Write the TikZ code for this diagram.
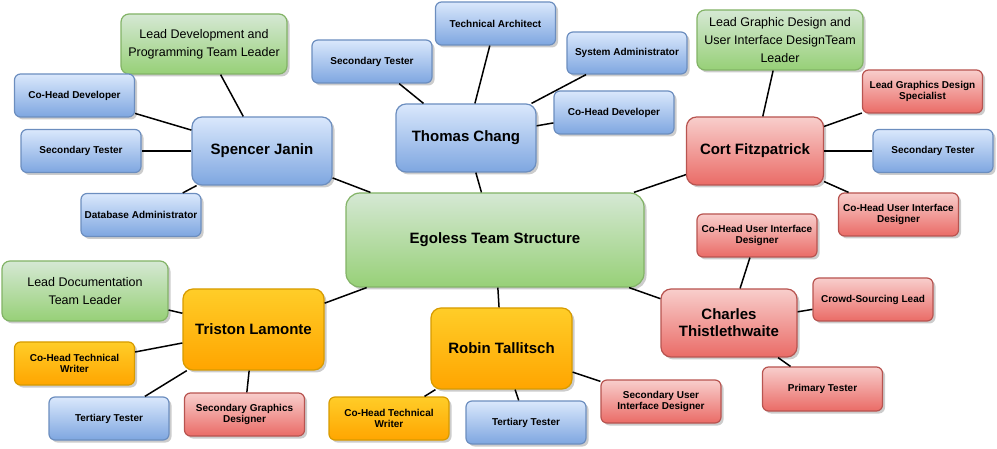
\documentclass[tikz,border=0pt]{standalone}
\usepackage{fontspec}
\setmainfont{Liberation Sans}
\usetikzlibrary{shadows}
\definecolor{teamblue}{HTML}{6C8EBF}
\definecolor{teambluetop}{HTML}{DAE8FC}
\definecolor{teambluebot}{HTML}{7EA6E0}
\definecolor{teamgreen}{HTML}{82B366}
\definecolor{teamgreentop}{HTML}{D5E8D4}
\definecolor{teamgreenbot}{HTML}{97D077}
\definecolor{teamred}{HTML}{B85450}
\definecolor{teamredtop}{HTML}{F8CECC}
\definecolor{teamredbot}{HTML}{EA6B66}
\definecolor{teamorange}{HTML}{D79B00}
\definecolor{teamorangetop}{HTML}{FFCD28}
\definecolor{teamorangebot}{HTML}{FFA500}
\begin{document}
\begin{tikzpicture}[
        x=1pt, y=-1pt,
        box/.style={line width=1.2pt, align=center, inner sep=2pt, drop shadow={shadow xshift=2.5pt, shadow yshift=-2.5pt, opacity=0.2, fill=black}},
        bluebox/.style={box, draw=teamblue, top color=teambluetop, bottom color=teambluebot},
        greenbox/.style={box, draw=teamgreen, top color=teamgreentop, bottom color=teamgreenbot},
        redbox/.style={box, draw=teamred, top color=teamredtop, bottom color=teamredbot},
        orangebox/.style={box, draw=teamorange, top color=teamorangetop, bottom color=teamorangebot},
        role/.style={rounded corners=6pt, minimum width=120pt, minimum height=43pt, font=\fontsize{10}{11.3}\selectfont\bfseries},
        member/.style={rounded corners=10pt, minimum width=140pt, minimum height=68pt, font=\fontsize{15}{17}\selectfont\bfseries},
        leader/.style={greenbox, rounded corners=8pt, minimum width=166pt, minimum height=60pt, font=\fontsize{12.5}{18}\selectfont},
        link/.style={line width=1.5pt}
    ]
        \useasboundingbox (0,0) rectangle (997,449);
        \node[greenbox, rounded corners=14pt, minimum width=298pt, minimum height=94pt, font=\fontsize{15}{17}\selectfont\bfseries] (root) at (495,240) {Egoless Team Structure};
        % development
        \node[bluebox, member] (spencer) at (262,151) {Spencer Janin};
        \node[leader] (devlead) at (204,44) {Lead Development and\\Programming Team Leader};
        \node[bluebox, role] (spencerdev) at (74.5,95.5) {Co-Head Developer};
        \node[bluebox, role] (spencertest) at (81,151) {Secondary Tester};
        \node[bluebox, role] (dbadmin) at (141,215) {Database Administrator};
        % architecture
        \node[bluebox, member] (thomas) at (466,138) {Thomas Chang};
        \node[bluebox, role] (thomastest) at (372,61.5) {Secondary Tester};
        \node[bluebox, role] (architect) at (495.5,23.5) {Technical Architect};
        \node[bluebox, role, minimum height=42pt] (sysadmin) at (627,53) {System Administrator};
        \node[bluebox, role] (thomasdev) at (614,112.5) {Co-Head Developer};
        % graphics
        \node[redbox, member, minimum width=137pt] (cort) at (755,151) {Cort Fitzpatrick};
        \node[leader] (graphiclead) at (780,40) {Lead Graphic Design and\\User Interface DesignTeam\\Leader};
        \node[redbox, role] (graphicspec) at (922.5,91.5) {Lead Graphics Design\\Specialist};
        \node[bluebox, role] (corttest) at (933,151) {Secondary Tester};
        \node[redbox, role] (cortui) at (898.5,214.5) {Co-Head User Interface\\Designer};
        % interface
        \node[redbox, member, minimum width=136pt] (charles) at (729,323) {Charles\\Thistlethwaite};
        \node[redbox, role] (charlesui) at (757,235.5) {Co-Head User Interface\\Designer};
        \node[redbox, role] (crowd) at (873,299.5) {Crowd-Sourcing Lead};
        \node[redbox, role, minimum height=44pt] (primary) at (822.5,389) {Primary Tester};
        % documentation
        \node[orangebox, member, minimum width=141pt, minimum height=81pt] (robin) at (501.5,348.5) {Robin Tallitsch};
        \node[orangebox, role] (robinwriter) at (389,418.5) {Co-Head Technical\\Writer};
        \node[bluebox, role] (robintest) at (526,422.5) {Tertiary Tester};
        \node[redbox, role] (secui) at (661,401.5) {Secondary User\\Interface Designer};
        \node[orangebox, member, minimum width=141pt, minimum height=81pt] (triston) at (253.5,329.5) {Triston Lamonte};
        \node[leader] (doclead) at (85,291) {Lead Documentation\\Team Leader};
        \node[orangebox, role] (tristonwriter) at (74.5,363.5) {Co-Head Technical\\Writer};
        \node[bluebox, role] (tristontest) at (109,418.5) {Tertiary Tester};
        \node[redbox, role] (secgraphics) at (244.5,414.5) {Secondary Graphics\\Designer};
        % connectors
        \foreach \lead in {spencer, thomas, cort, charles, robin, triston}
            \draw[link] (root) -- (\lead);
        \foreach \role in {devlead, spencerdev, spencertest, dbadmin}
            \draw[link] (spencer) -- (\role);
        \foreach \role in {thomastest, architect, sysadmin, thomasdev}
            \draw[link] (thomas) -- (\role);
        \foreach \role in {graphiclead, graphicspec, corttest, cortui}
            \draw[link] (cort) -- (\role);
        \foreach \role in {charlesui, crowd, primary}
            \draw[link] (charles) -- (\role);
        \foreach \role in {robinwriter, robintest, secui}
            \draw[link] (robin) -- (\role);
        \foreach \role in {doclead, tristonwriter, tristontest, secgraphics}
            \draw[link] (triston) -- (\role);
    \end{tikzpicture}
\end{document}
